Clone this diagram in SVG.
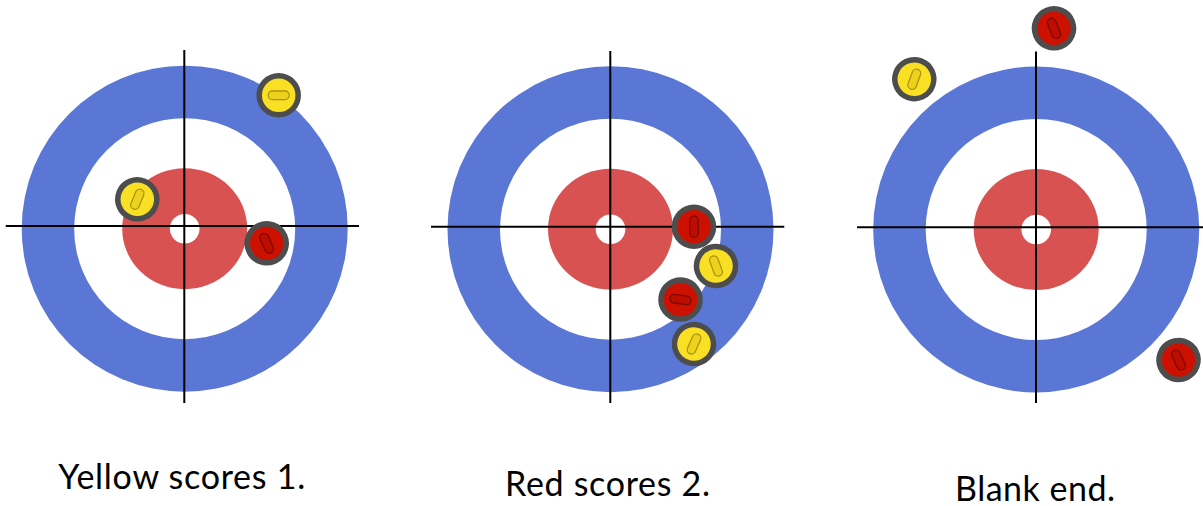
<svg xmlns="http://www.w3.org/2000/svg" xmlns:xlink="http://www.w3.org/1999/xlink" width="1203" height="506" viewBox="0 0 1203 506">
  <style>
    .blue { fill: #5a77d6; }
    .white { fill: #ffffff; }
    .red { fill: #d95252; }
    .line { stroke: #000000; stroke-width: 2; fill: none; }
    .stone { stroke: #4d4d4d; stroke-width: 5.5; }
    .ys { fill: #f9e024; }
    .rs { fill: #cc1100; }
    .yh { fill: #ecd21c; stroke: #a89410; stroke-width: 1.3; }
    .rh { fill: #bb0e00; stroke: #7e0800; stroke-width: 1.3; }
    .label { font-family: Lato, "Noto Sans", "Liberation Sans", sans-serif; font-size: 34px; font-weight: 400; fill: #000000; text-anchor: middle; }
  </style>
  <defs>
    <g id="yellowStone">
      <circle r="19.5" class="stone ys"/>
      <rect x="-10.5" y="-4.3" width="21" height="8.6" rx="4.3" class="yh"/>
    </g>
    <g id="redStone">
      <circle r="19.5" class="stone rs"/>
      <rect x="-10.5" y="-4.3" width="21" height="8.6" rx="4.3" class="rh"/>
    </g>
  </defs>
  <rect width="1203" height="506" fill="#ffffff"/>

  <g id="house1">
    <circle cx="184.7" cy="228.7" r="163" class="blue"/>
    <circle cx="184.7" cy="228.7" r="110.5" class="white"/>
    <ellipse cx="184.7" cy="228.7" rx="62.5" ry="60.5" class="red"/>
    <circle cx="184.7" cy="228.7" r="14.8" class="white"/>
  </g>
  <g id="house2">
    <circle cx="610.5" cy="229.2" r="163" class="blue"/>
    <circle cx="610.5" cy="229.2" r="110.5" class="white"/>
    <ellipse cx="610.5" cy="229.2" rx="62.5" ry="60.5" class="red"/>
    <circle cx="610.5" cy="229.2" r="14.8" class="white"/>
  </g>
  <g id="house3">
    <circle cx="1036.2" cy="229.5" r="163" class="blue"/>
    <circle cx="1036.2" cy="229.5" r="110.5" class="white"/>
    <ellipse cx="1036.2" cy="229.5" rx="62.5" ry="60.5" class="red"/>
    <circle cx="1036.2" cy="229.5" r="14.8" class="white"/>
  </g>

  <g id="connectors">
    <line x1="184.3" y1="50" x2="184.3" y2="403" class="line"/>
    <line x1="5.7" y1="226" x2="359" y2="226" class="line"/>
    <line x1="610.3" y1="51" x2="610.3" y2="403" class="line"/>
    <line x1="431" y1="226.7" x2="784.3" y2="226.7" class="line"/>
    <line x1="1036" y1="51.5" x2="1036" y2="403" class="line"/>
    <line x1="857" y1="227.3" x2="1203" y2="227.3" class="line"/>
  </g>

  <g id="stone1a"><use xlink:href="#yellowStone" transform="translate(278.7,95.3)"/></g>
  <g id="stone1b"><use xlink:href="#yellowStone" transform="translate(137.3,199.3) rotate(-68)"/></g>
  <g id="stone1c"><use xlink:href="#redStone" transform="translate(266.7,243.3) rotate(66)"/></g>

  <g id="stone2a"><use xlink:href="#redStone" transform="translate(694,226.7) rotate(90)"/></g>
  <g id="stone2b"><use xlink:href="#yellowStone" transform="translate(716,266) rotate(70)"/></g>
  <g id="stone2c"><use xlink:href="#redStone" transform="translate(680.5,299.6) rotate(8)"/></g>
  <g id="stone2d"><use xlink:href="#yellowStone" transform="translate(694,344) rotate(-66)"/></g>

  <g id="stone3a"><use xlink:href="#yellowStone" transform="translate(914.3,79.2) rotate(-70)"/></g>
  <g id="stone3b"><use xlink:href="#redStone" transform="translate(1054,28.3) rotate(68)"/></g>
  <g id="stone3c"><use xlink:href="#redStone" transform="translate(1178.5,360) rotate(65)"/></g>

  <g id="caption1"><text x="181.7" y="489" class="label" textLength="247" lengthAdjust="spacing">Yellow scores 1.</text></g>
  <g id="caption2"><text x="607.5" y="495.7" class="label" textLength="205" lengthAdjust="spacing">Red scores 2.</text></g>
  <g id="caption3"><text x="1035" y="500.7" class="label" textLength="160" lengthAdjust="spacing">Blank end.</text></g>
</svg>
